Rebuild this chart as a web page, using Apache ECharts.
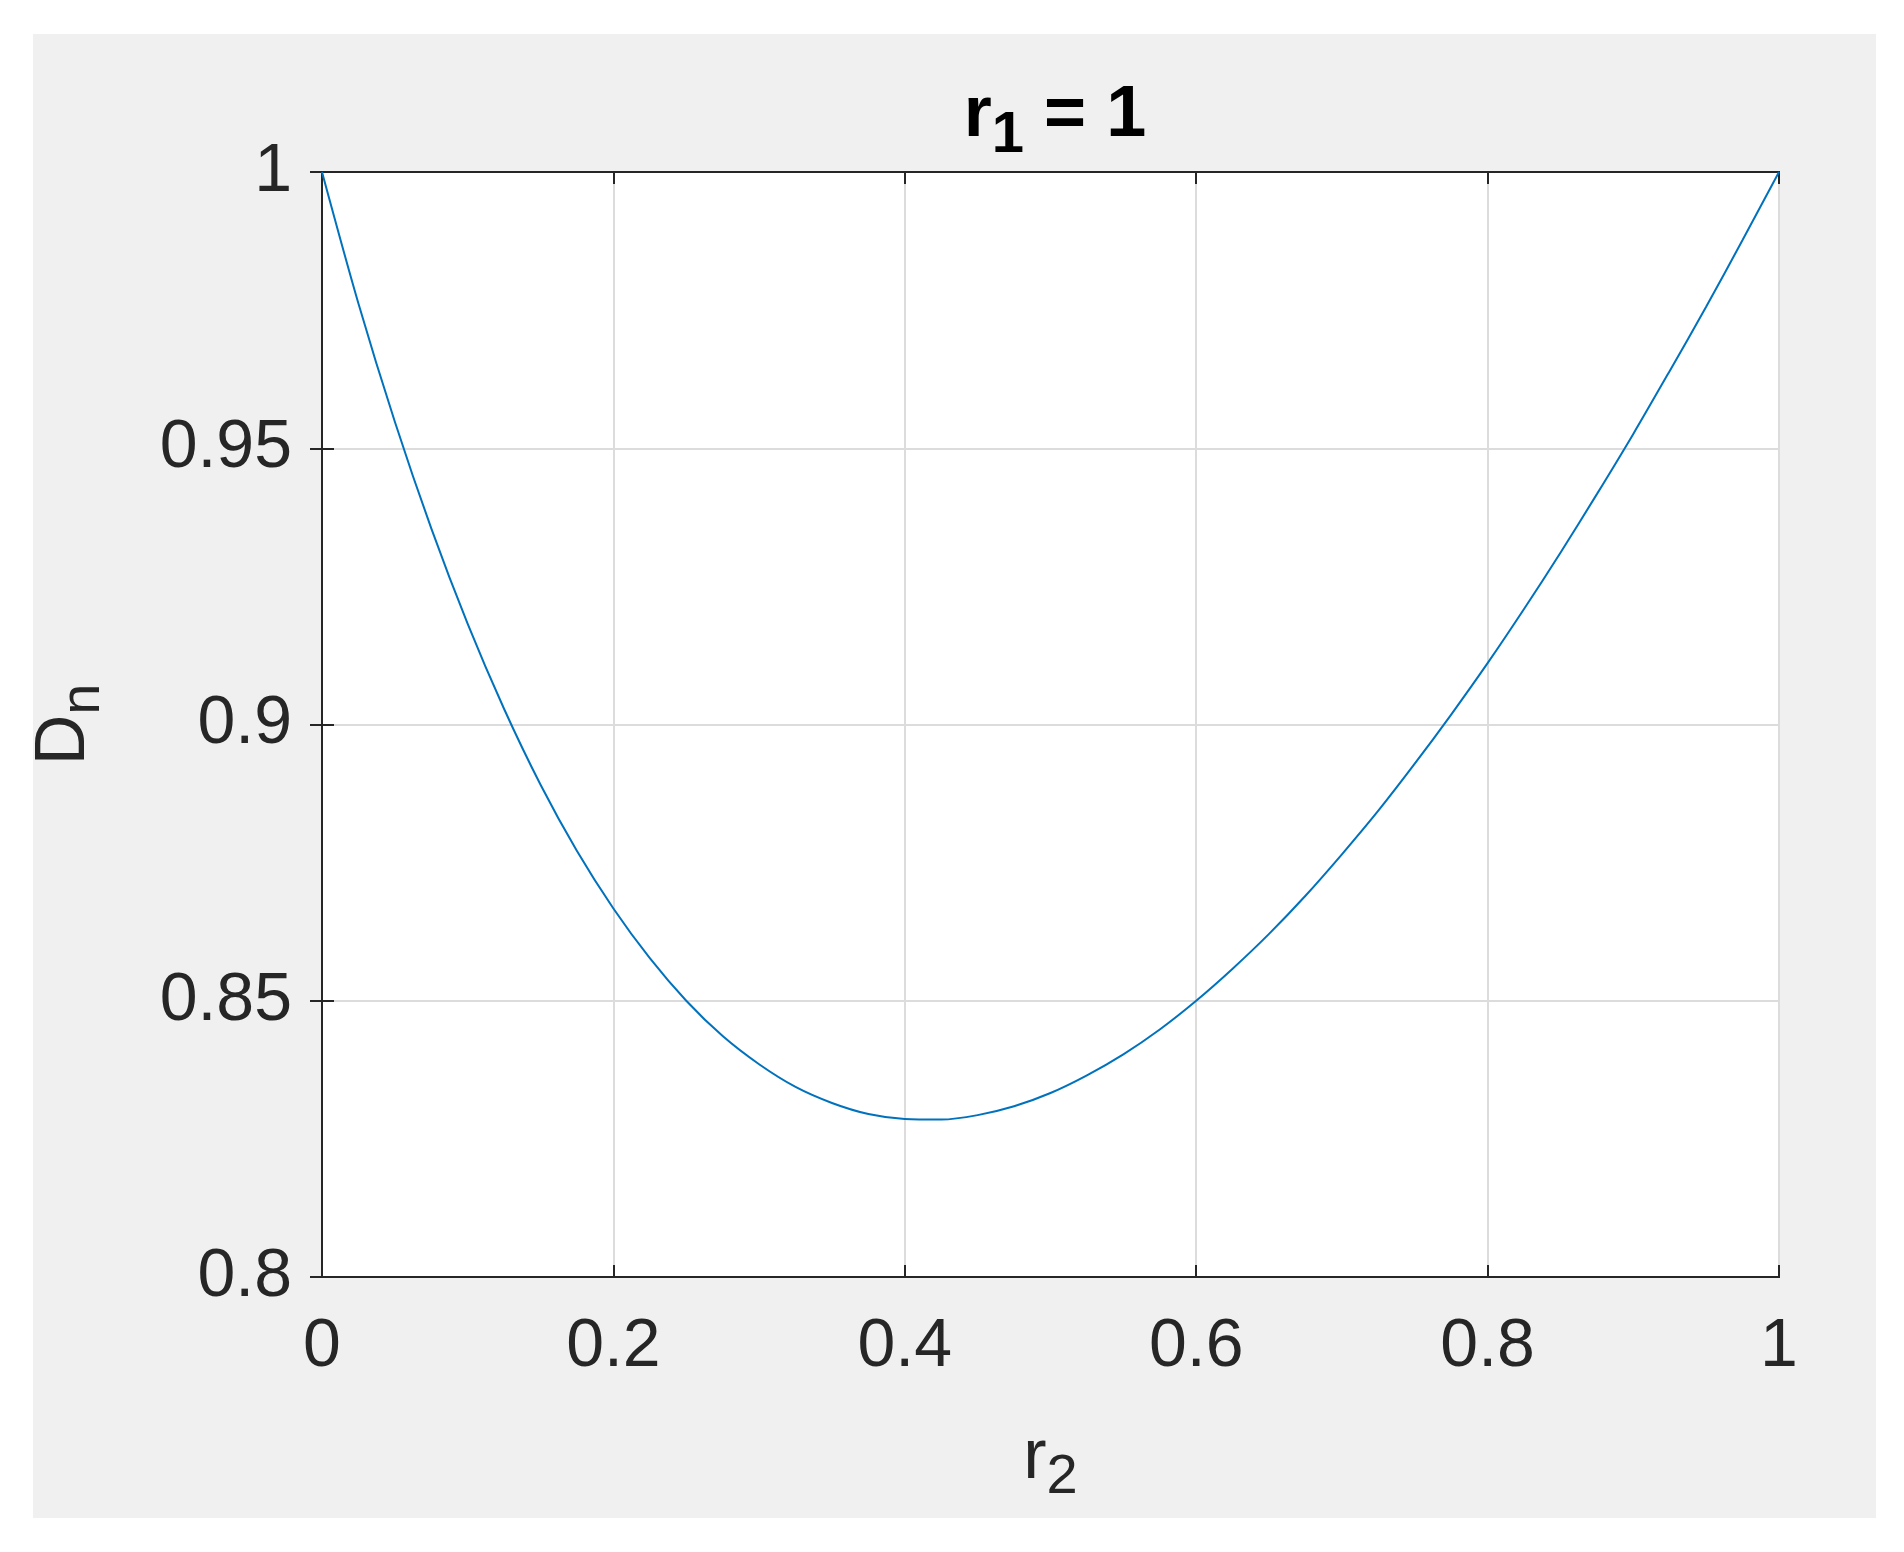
<!DOCTYPE html>
<html><head><meta charset="utf-8">
<script src="https://cdn.jsdelivr.net/npm/echarts@6/dist/echarts.min.js"></script>
<style>html,body{margin:0;padding:0;background:#fff}#c{width:1904px;height:1552px}
#bg{position:absolute;left:33px;top:34px;width:1843px;height:1484px;background:#f0f0f0}</style>
</head><body><div id="bg"></div><div id="c" style="position:absolute;left:0;top:0"></div>
<script>
const r2 = [0,0.025,0.05,0.075,0.1,0.125,0.15,0.175,0.2,0.225,0.25,0.275,0.3,0.325,0.35,0.375,0.4,0.425,0.45,0.475,0.5,0.525,0.55,0.575,0.6,0.625,0.65,0.675,0.7,0.725,0.75,0.775,0.8,0.825,0.85,0.875,0.9,0.925,0.95,0.975,1];
const Dn = [1,0.9762,0.9548,0.9355,0.9182,0.9028,0.8891,0.8771,0.8667,0.8577,0.85,0.8436,0.8385,0.8344,0.8315,0.8295,0.8286,0.8285,0.8293,0.8309,0.8333,0.8365,0.8403,0.8448,0.85,0.8558,0.8621,0.8690,0.8765,0.8844,0.8929,0.9018,0.9111,0.9209,0.9311,0.9417,0.9526,0.9640,0.9756,0.9877,1];
const xTicks = [0,0.2,0.4,0.6,0.8,1];
const yTicks = [0.8,0.85,0.9,0.95,1];
const font = 'Arial, "Liberation Sans", sans-serif';
const ax = '#262626';
const chart = echarts.init(document.getElementById('c'));
const sub = {fontSize:56, fontFamily:font, color:ax, padding:[38,0,0,0]};
chart.setOption({
  animation:false,
  title:{text:'{a|r}{s|1}{a| = 1}', left:1050, textAlign:'center', top:62,
    textStyle:{rich:{a:{fontSize:72,fontWeight:'bold',fontFamily:font,color:'#000'},
                     s:{fontSize:58,fontWeight:'bold',fontFamily:font,color:'#000',padding:[40,0,0,0]}}}},
  grid:{left:322,right:125,top:172,bottom:275,show:true,backgroundColor:'#fff',borderColor:ax,borderWidth:2},
  xAxis:[{type:'value',min:0,max:1,interval:0.2,
    name:'{a|r}{s|2}',nameLocation:'middle',nameGap:135,
    nameTextStyle:{rich:{a:{fontSize:70,fontFamily:font,color:ax},s:sub}},
    axisLine:{lineStyle:{color:ax,width:2}},axisTick:{inside:true,length:12,lineStyle:{color:ax,width:2}},
    axisLabel:{fontSize:68,fontFamily:font,color:ax,margin:36,formatter:v=>String(+v.toFixed(2))},
    splitLine:{show:true,lineStyle:{color:'#dcdcdc',width:2}}},
   {type:'value',position:'top',min:0,max:1,interval:0.2,axisLine:{lineStyle:{color:ax,width:2}},
    axisTick:{inside:true,length:12,lineStyle:{color:ax,width:2}},axisLabel:{show:false},splitLine:{show:false}}],
  yAxis:[{type:'value',min:0.8,max:1,interval:0.05,
    name:'{a|D}{s|n}',nameLocation:'middle',nameGap:210,nameRotate:90,
    nameTextStyle:{rich:{a:{fontSize:70,fontFamily:font,color:ax},s:sub}},
    axisLine:{lineStyle:{color:ax,width:2}},axisTick:{inside:true,length:12,lineStyle:{color:ax,width:2}},
    axisLabel:{fontSize:68,fontFamily:font,color:ax,margin:30,formatter:v=>String(+v.toFixed(2))},
    splitLine:{show:true,lineStyle:{color:'#dcdcdc',width:2}}},
   {type:'value',position:'right',min:0.8,max:1,interval:0.05,axisLine:{lineStyle:{color:ax,width:2}},
    axisTick:{inside:true,length:12,lineStyle:{color:ax,width:2}},axisLabel:{show:false},splitLine:{show:false}}],
  series:[{type:'line',data:r2.map((x,i)=>[x,Dn[i]]),smooth:0.3,showSymbol:false,
    lineStyle:{color:'#0072bd',width:2}}]
});
</script></body></html>
